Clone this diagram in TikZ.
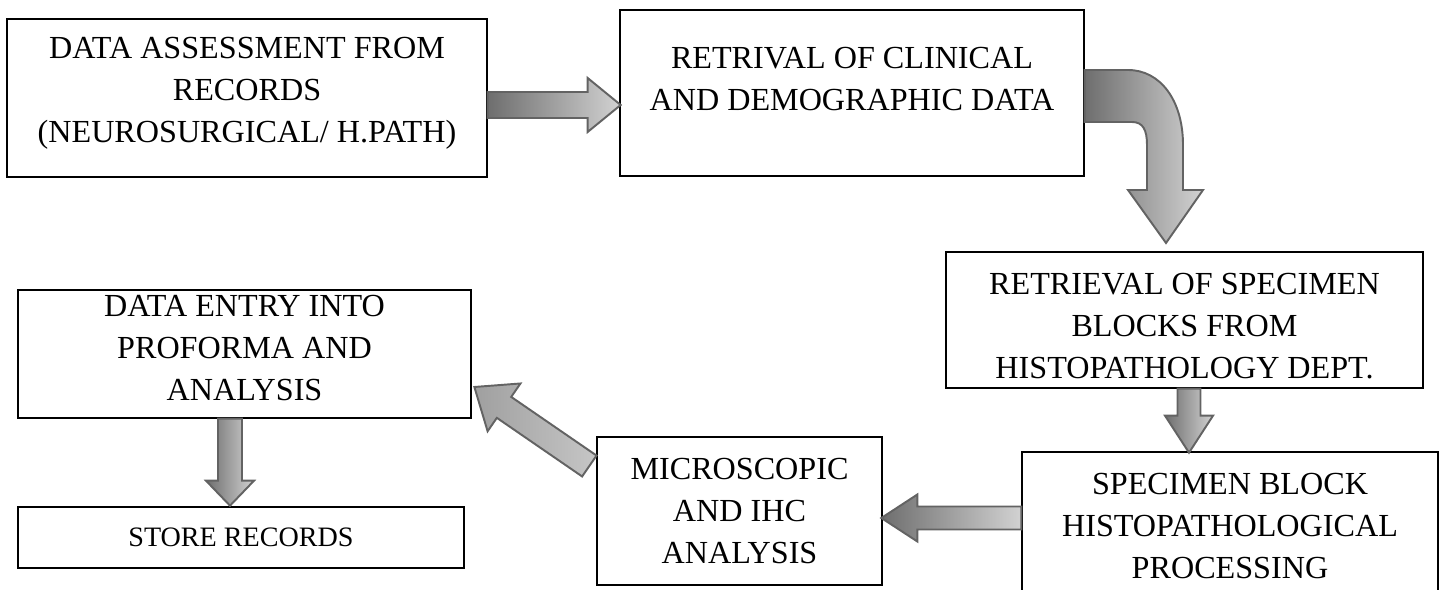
\documentclass[tikz,border=0pt]{standalone}
\usepackage{fontspec}
\setmainfont{Liberation Serif}
\usetikzlibrary{calc}

\definecolor{arrowdark}{HTML}{6E6E6E}
\definecolor{arrowlight}{HTML}{D2D2D2}
\definecolor{arrowedge}{HTML}{636363}

% straight block arrow: tail, angle, length, shaft half, head half, head length, extra options
\newcommand{\blockarrow}[7]{%
  \begin{scope}[shift={#1}, rotate=#2]
    \filldraw[flowarrow, #7] (0,-#4) -- ({#3-#6},-#4) -- ({#3-#6},-#5) -- (#3,0)
      -- ({#3-#6},#5) -- ({#3-#6},#4) -- (0,#4) -- cycle;
  \end{scope}}

\begin{document}
\begin{tikzpicture}[x=0.02cm, y=-0.02cm,
    stage/.style={draw, line width=0.8pt, align=center, inner sep=0pt,
      font=\fontsize{18.3}{24}\selectfont},
    flowarrow/.style={draw=arrowedge, line width=1.1pt,
      left color=arrowdark, right color=arrowlight}]
  \useasboundingbox (0,0) rectangle (1446,590);
  \clip (0,0) rectangle (1446,590);

  \node[stage, minimum width=9.6cm, minimum height=3.16cm] (data) at (247,98)
    {DATA ASSESSMENT FROM\\RECORDS\\(NEUROSURGICAL/ H.PATH)\\[-15pt]\mbox{}};
  \node[stage, minimum width=9.28cm, minimum height=3.32cm] (clin) at (852,93)
    {RETRIVAL OF CLINICAL\\AND DEMOGRAPHIC DATA\\[-8pt]\mbox{}};
  \node[stage, minimum width=9.54cm, minimum height=2.72cm] (spec) at (1184.5,320)
    {\mbox{}\\[-5pt]RETRIEVAL OF SPECIMEN\\BLOCKS FROM\\HISTOPATHOLOGY DEPT.};
  \node[stage, minimum width=8.32cm, minimum height=2.96cm] (proc) at (1230,526)
    {SPECIMEN BLOCK\\HISTOPATHOLOGICAL\\PROCESSING};
  \node[stage, minimum width=5.7cm, minimum height=2.96cm] (micro) at (739.5,511)
    {MICROSCOPIC\\AND IHC\\ANALYSIS};
  \node[stage, minimum width=9.06cm, minimum height=2.56cm] (entry) at (244.5,354)
    {DATA ENTRY INTO\\PROFORMA AND\\ANALYSIS\\[-17pt]\mbox{}};
  \node[stage, minimum width=8.92cm, minimum height=1.22cm,
    font=\fontsize{16}{19}\selectfont] (store) at (241,537.5) {STORE RECORDS};

  % arrows
  \blockarrow{($(data.east)+(0,7)$)}{0}{133}{13}{27}{33}{}
  \filldraw[flowarrow] ($(clin.east)+(0,-23)$) -- (1128,70)
    .. controls (1160,70) and (1183,100) .. (1183,145) -- (1183,190) -- (1203,190)
    -- (1166,243) -- (1128,190) -- (1147,190) -- (1147,145)
    .. controls (1147,130) and (1143,122) .. (1132,122) -- ($(clin.east)+(0,29)$) -- cycle;
  \blockarrow{($(spec.south)+(4.5,0)$)}{-90}{64}{11.5}{24}{37}{}
  \blockarrow{($(proc.west)+(0,-8)$)}{180}{140}{11.5}{23.5}{36}{}
  \blockarrow{($(micro.west)+(-7,-45)$)}{145.5}{139.5}{12.7}{29}{36}{left color=gray!75, right color=gray!45}
  \blockarrow{($(entry.south)+(-14.5,0)$)}{-90}{87}{12}{24}{25}{}
\end{tikzpicture}
\end{document}
